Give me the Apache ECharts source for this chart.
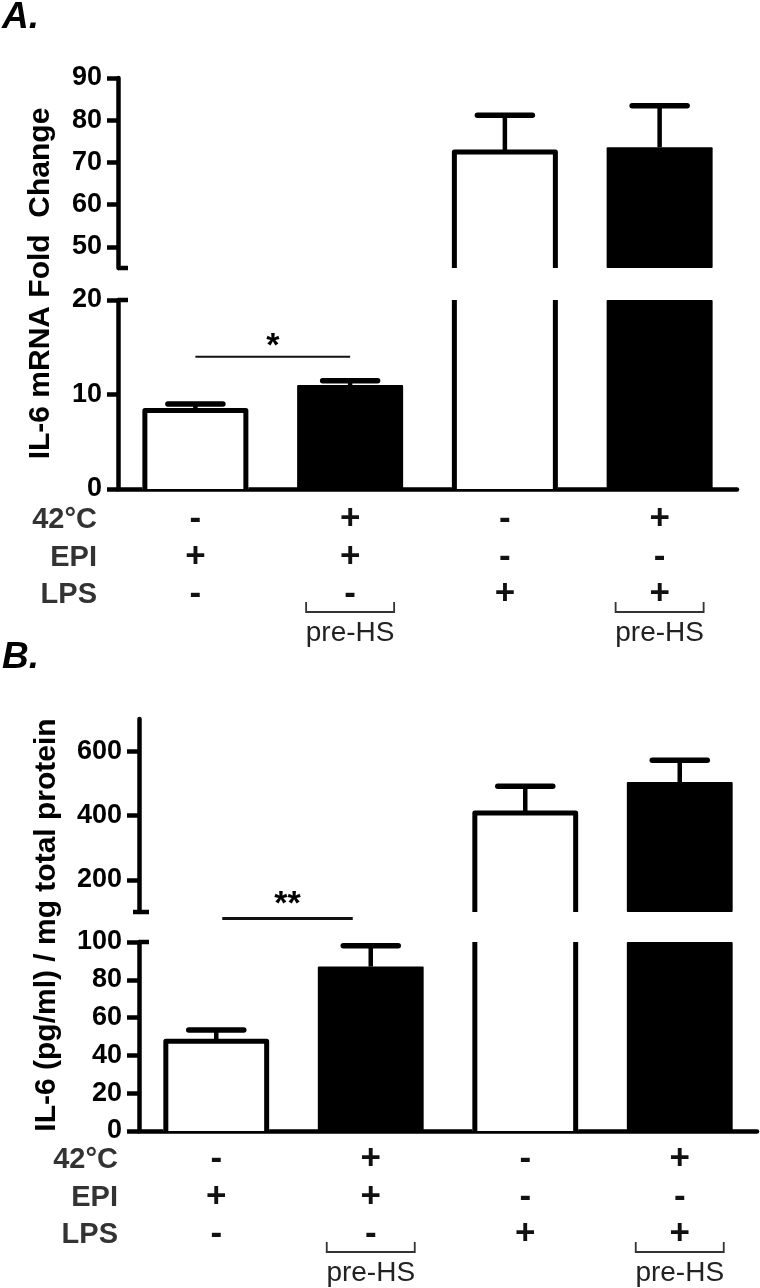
<!DOCTYPE html>
<html><head><meta charset="utf-8">
<script src="https://cdn.jsdelivr.net/npm/echarts@6/dist/echarts.min.js"></script>
<style>html,body{margin:0;padding:0;background:#fff}#c{width:760px;height:1288px}</style>
</head><body><div id="c"></div>
<script>
// ---- data ----
const categories = ['EPI', 'pre-HS + EPI', 'LPS', 'pre-HS + LPS'];
const barFill = ['white', 'black', 'white', 'black'];
const mrnaMean = [8.3, 11.0, 72.5, 73.6];
const mrnaErr = [0.7, 0.45, 8.7, 9.8];
const proteinMean = [47.5, 87, 408, 504];
const proteinErr = [6, 11, 83, 68];
const rowNames = ['42°C', 'EPI', 'LPS'];
const row42 = ['-', '+', '-', '+'];
const rowEpi = ['+', '+', '-', '-'];
const rowLps = ['-', '-', '+', '+'];
const preHSGroups = [1, 3];
const ticksAtop = [50, 60, 70, 80, 90];
const ticksBtop = [200, 400, 600];
const sigA = { from: 0, to: 1, value: 14, label: '*' };
const sigB = { from: 0, to: 1, value: 80, label: '**' };

const FONT = 'Liberation Sans, Arial, sans-serif';
const chart = echarts.init(document.getElementById('c'));

const grids = [
  { left: 118, right: 23, top: 78, height: 190 },
  { left: 118, right: 23, top: 300, height: 189 },
  { left: 139, right: 3, top: 719, height: 193 },
  { left: 139, right: 3, top: 942, height: 189 }
];
const ranges = [[45, 90], [0, 20], [100, 700], [0, 100]];

function makeRender(min, max) {
  return function (params, api) {
    const i = api.value(0), v = api.value(1), e = api.value(2);
    if (v <= min) return null;
    const base = api.coord([i, min]);
    const cx = base[0], yb = base[1];
    const bw = api.size([1, 0])[0] * 0.685;
    const showTop = v <= max;
    const yt = api.coord([i, Math.min(v, max)])[1];
    const xl = cx - bw / 2, xr = cx + bw / 2;
    const ch = [];
    if (barFill[i] === 'white') {
      const lw = 5, h = lw / 2;
      ch.push({ type: 'rect', shape: { x: xl, y: yt, width: bw, height: yb - yt }, style: { fill: '#fff' } });
      if (showTop) {
        ch.push({ type: 'polyline', shape: { points: [[xl + h, yb], [xl + h, yt], [xr - h, yt], [xr - h, yb]] },
          style: { stroke: '#000', lineWidth: lw, fill: null, lineJoin: 'round' } });
      } else {
        ch.push({ type: 'line', shape: { x1: xl + h, y1: yb, x2: xl + h, y2: yt }, style: { stroke: '#000', lineWidth: lw } });
        ch.push({ type: 'line', shape: { x1: xr - h, y1: yb, x2: xr - h, y2: yt }, style: { stroke: '#000', lineWidth: lw } });
      }
    } else {
      ch.push({ type: 'rect', shape: { x: xl, y: yt, width: bw, height: yb - yt, r: 1 }, style: { fill: '#000' } });
    }
    if (showTop) {
      const ye = api.coord([i, v + e])[1];
      const capW = 55;
      ch.push({ type: 'line', shape: { x1: cx, y1: yt, x2: cx, y2: ye }, style: { stroke: '#000', lineWidth: 4.5 } });
      ch.push({ type: 'line', shape: { x1: cx - capW / 2, y1: ye, x2: cx + capW / 2, y2: ye }, style: { stroke: '#000', lineWidth: 5.5, lineCap: 'round' } });
    }
    return { type: 'group', children: ch };
  };
}

const xAxes = grids.map((g, k) => {
  const isBottom = k % 2 === 1;
  return {
    type: 'category', gridIndex: k, data: categories, show: isBottom,
    axisLine: { show: isBottom, lineStyle: { color: '#000', width: 4.5 } },
    axisTick: { show: false },
    axisLabel: {
      show: isBottom, interval: 0, margin: k === 1 ? 12 : 10,
      formatter: (v, i) => [row42[i], rowEpi[i], rowLps[i]].join('\n'),
      fontFamily: FONT, fontWeight: 'bold', fontSize: 35, lineHeight: 37.5, color: '#111'
    }
  };
});

const yAxes = grids.map((g, k) => {
  const ax = {
    type: 'value', gridIndex: k, min: ranges[k][0], max: ranges[k][1],
    splitLine: { show: false },
    axisLine: { show: true, lineStyle: { color: '#000', width: 4.5 } },
    axisTick: { show: true, length: k < 2 ? 11 : 12, lineStyle: { color: '#000', width: 4.5 } },
    axisLabel: { margin: k < 2 ? 16 : 17, fontFamily: FONT, fontWeight: 'bold', fontSize: 27, color: '#000' }
  };
  if (k === 0) { ax.axisLabel.customValues = ticksAtop; ax.axisTick.customValues = ticksAtop; }
  if (k === 2) { ax.axisLabel.customValues = ticksBtop; ax.axisTick.customValues = ticksBtop; }
  if (k === 1) ax.interval = 10;
  if (k === 3) ax.interval = 20;
  return ax;
});

const series = grids.map((g, k) => {
  const mean = k < 2 ? mrnaMean : proteinMean;
  const err = k < 2 ? mrnaErr : proteinErr;
  return {
    type: 'custom', xAxisIndex: k, yAxisIndex: k, clip: false,
    renderItem: makeRender(ranges[k][0], ranges[k][1]),
    data: categories.map((c, i) => [i, mean[i], err[i]]),
    z: 1
  };
});

chart.setOption({
  animation: false,
  backgroundColor: '#fff',
  grid: grids,
  xAxis: xAxes,
  yAxis: yAxes,
  series: series
});

// ---- annotations positioned from the axes ----
function px(grid, cat, val) { return chart.convertToPixel({ gridIndex: grid }, [cat, val]); }
const graphic = [];
const panels = [
  { letter: 'A.', letterY: 20, top: 0, bot: 1, title: 'IL-6 mRNA Fold  Change', titleDX: -77, rowOff: 31, sig: sigA, sigGrid: 1, sigInset: [0, 0], starDY: 10, sigW: 2 },
  { letter: 'B.', letterY: 660, top: 2, bot: 3, title: 'IL-6 (pg/ml) / mg total protein', titleDX: -92, rowOff: 29, sig: sigB, sigGrid: 2, sigInset: [6, -18], starDY: 14, sigW: 3 }
];
panels.forEach(p => {
  const tTop = px(p.top, 0, ranges[p.top][1]);
  const tBot = px(p.top, 0, ranges[p.top][0]);
  const bTop = px(p.bot, 0, ranges[p.bot][1]);
  const bZero = px(p.bot, 0, 0);
  const axisX = grids[p.top].left;
  const capL = p.top === 0 ? 0 : 6, capR = 10;
  graphic.push({ type: 'text', left: 2, top: p.letterY - 21, style: { text: p.letter, font: 'italic bold 37px ' + FONT, fill: '#000' } });
  graphic.push({ type: 'text', x: axisX + p.titleDX, y: (tTop[1] + bZero[1]) / 2, rotation: Math.PI / 2,
    style: { text: p.title, font: 'bold 30px ' + FONT, fill: '#000', align: 'center', verticalAlign: 'middle' } });
  graphic.push({ type: 'line', shape: { x1: axisX - capL, y1: tBot[1], x2: axisX + capR, y2: tBot[1] }, style: { stroke: '#000', lineWidth: 4.5 } });
  graphic.push({ type: 'line', shape: { x1: axisX, y1: bTop[1], x2: axisX + capR, y2: bTop[1] }, style: { stroke: '#000', lineWidth: 4.5 } });
  rowNames.forEach((r, j) => {
    graphic.push({ type: 'text', x: axisX - 21, y: bZero[1] + p.rowOff + j * 37.5,
      style: { text: r, font: 'bold 29px ' + FONT, fill: '#333', align: 'right', verticalAlign: 'middle' } });
  });
  const lpsY = bZero[1] + p.rowOff + 2 * 37.5;
  preHSGroups.forEach(i => {
    const cx = px(p.bot, i, 0)[0];
    graphic.push({ type: 'polyline', shape: { points: [[cx - 44, lpsY + 7], [cx - 44, lpsY + 17], [cx + 44, lpsY + 17], [cx + 44, lpsY + 7]] },
      style: { stroke: '#333', lineWidth: 1.8, fill: null } });
    graphic.push({ type: 'text', x: cx, y: lpsY + 38, style: { text: 'pre-HS', font: '28px ' + FONT, fill: '#222', align: 'center', verticalAlign: 'middle' } });
  });
  const s = p.sig;
  const a = px(p.sigGrid, s.from, s.value), b = px(p.sigGrid, s.to, s.value);
  const x1 = a[0] + p.sigInset[0], x2 = b[0] + p.sigInset[1];
  graphic.push({ type: 'line', shape: { x1: x1, y1: a[1], x2: x2, y2: a[1] }, style: { stroke: '#111', lineWidth: p.sigW } });
  graphic.push({ type: 'text', x: (x1 + x2) / 2, y: a[1] - p.starDY, style: { text: s.label, font: 'bold 34px ' + FONT, fill: '#000', align: 'center', verticalAlign: 'middle' } });
});
chart.setOption({ graphic: graphic });
</script></body></html>
